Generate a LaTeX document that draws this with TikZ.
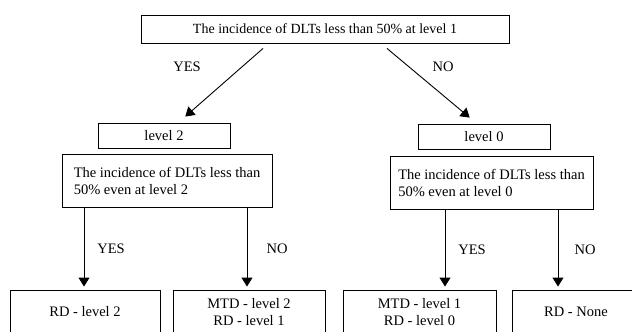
\documentclass[tikz,border=0pt]{standalone}
\usepackage{fontspec}
\setmainfont{Liberation Serif}
\usetikzlibrary{arrows.meta,calc}

\begin{document}
\begin{tikzpicture}[x=1pt,y=-1pt,line width=0.9pt,
		>={Triangle[width=11pt,length=9pt]},shorten >=3pt,
		box node/.style={draw,rectangle,inner sep=0pt,font=\fontsize{14.5}{17}\selectfont},
		level node/.style={box node,minimum width=132pt,minimum height=25pt},
		ask node/.style={box node,align=left,minimum height=53pt},
		end node/.style={box node,align=center,minimum height=44pt},
		label node/.style={font=\fontsize{14.5}{17}\selectfont}]
	\clip (0,0) rectangle (632,332);
	\node[box node,minimum width=368pt,minimum height=28pt,font=\fontsize{14}{17}\selectfont] (top) at (325,29) {The incidence of DLTs less than 50\% at level 1};
	\node[level node] (l2) at (164,135.5) {level 2};
	\node[level node] (l0) at (484,136.5) {level 0};
	\node[ask node,minimum width=210pt] (q2) at (167,180.5) {The incidence of DLTs less than\\50\% even at level 2};
	\node[ask node,minimum width=203pt] (q0) at (491.5,182.5) {The incidence of DLTs less than\\50\% even at level 0};
	\node[end node,minimum width=150pt] (r1) at (85,312) {RD - level 2};
	\node[end node,minimum width=152pt] (r2) at (249,312) {MTD - level 2\\RD - level 1};
	\node[end node,minimum width=153pt] (r3) at (419.5,312) {MTD - level 1\\RD - level 0};
	\node[end node,minimum width=128pt] (r4) at (576,312) {RD - None};
	\node[label node] (yes) at (187,67) {YES};
	\node[label node] (no) at (443,67) {NO};
	\draw[->] ($(top.south)+(-62,5)$) -- ($(l2.north)+(19,-4)$);
	\draw[->] ($(top.south)+(62,5)$) -- ($(l0.north)+(-12,-4)$);
	\path[->]
		(q2.south -| 84,0) edge node[label node,xshift=27pt] {YES} (r1.north -| 84,0)
		(q2.south -| 247,0) edge node[label node,xshift=30pt] {NO} (r2.north -| 247,0)
		(q0.south -| 445,0) edge node[label node,xshift=27pt] {YES} (r3.north -| 445,0)
		(q0.south -| 558,0) edge node[label node,xshift=27pt] {NO} (r4.north -| 558,0);
\end{tikzpicture}
\end{document}
